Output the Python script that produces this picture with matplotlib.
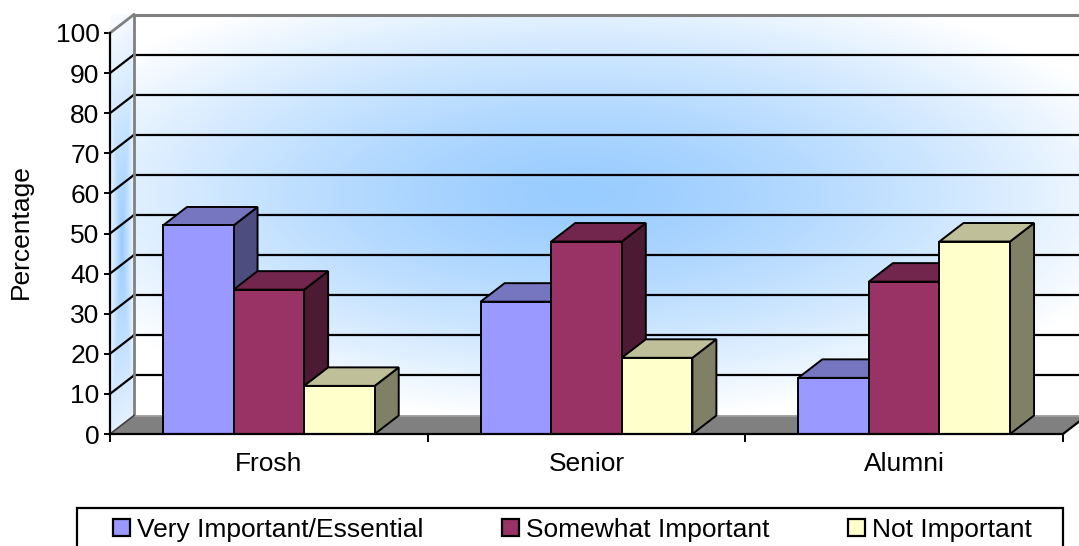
import matplotlib
matplotlib.use("Agg")
import matplotlib.pyplot as plt
import numpy as np
from matplotlib.patches import Polygon, Rectangle, Patch

# -----------------------------
# DATA
# -----------------------------
categories = ["Frosh", "Senior", "Alumni"]
series_names = ["Very Important/Essential", "Somewhat Important", "Not Important"]
very_important = [52, 33, 14]
somewhat_important = [36, 48, 38]
not_important = [12, 19, 48]
y_ticks = list(range(0, 101, 10))

front_colors = ["#9999FF", "#993366", "#FFFFCC"]
top_colors = ["#7575C0", "#73264D", "#BFBF99"]
side_colors = ["#4D4D80", "#4D1A33", "#808066"]

plt.rcParams["font.family"] = ["Liberation Sans", "DejaVu Sans"]
FS = 19

W, H = 1079, 546
fig = plt.figure(figsize=(W / 100, H / 100), dpi=100)
ax = fig.add_axes([110 / W, (H - 434) / H, 953 / W, 401 / H])

n_cat = len(categories)
# depth offset of the 3d box, in data units
DX = 24 / 317.7
DY = 18.5 / 4.01

# -----------------------------
# WALLS (gradient fill)
# -----------------------------
blue = np.array([0.60, 0.80, 1.0])
white = np.array([1.0, 1.0, 1.0])

xs = np.linspace(DX, n_cat + DX, 600)
ys = np.linspace(DY, 100 + DY, 300)
gx, gy = np.meshgrid(xs, ys)
px = 110 + gx * 317.7
py = 434 - gy * 4.01
u = (px - 580) / 580
v = (py - 195) / 225
t = np.clip(np.hypot(u, v), 0, 1) ** 1.4
t = t[..., None]
back = blue * (1 - t) + white * t
ax.imshow(back, extent=[DX, n_cat + DX, DY, 100 + DY], origin="lower",
          aspect="auto", zorder=0, clip_on=False, interpolation="bilinear")

sx = np.linspace(0, DX, 40)
sy = np.linspace(0, 100 + DY, 300)
gsx, gsy = np.meshgrid(sx, sy)
s = gsx / DX
val = gsy - DY * s
su = 2 * s - 1
sv = (val - 45) / 62
st = np.clip(np.maximum(0.8 * np.abs(su), np.abs(sv)), 0, 1)[..., None]
side_img = blue * (1 - st) + white * st
im = ax.imshow(side_img, extent=[0, DX, 0, 100 + DY], origin="lower",
               aspect="auto", zorder=0, clip_on=False, interpolation="bilinear")
side_poly = Polygon([(0, 0), (0, 100), (DX, 100 + DY), (DX, DY)],
                    closed=True, transform=ax.transData, facecolor="none",
                    edgecolor="none")
ax.add_patch(side_poly)
im.set_clip_path(side_poly)

# gridlines on back and side wall
for yv in y_ticks[1:-1]:
    ax.plot([DX, n_cat + DX], [yv + DY, yv + DY], color="black", lw=1.6,
            zorder=2, clip_on=False)
    ax.plot([0, DX], [yv, yv + DY], color="black", lw=1.6, zorder=2,
            clip_on=False)

# wall borders
ax.plot([DX, n_cat + DX], [100 + DY, 100 + DY], color="#808080", lw=2.2,
        zorder=2, clip_on=False)
ax.plot([0, DX], [100, 100 + DY], color="#808080", lw=2.0, zorder=2,
        clip_on=False)
ax.plot([DX, DX], [DY, 100 + DY], color="#808080", lw=2.0, zorder=2,
        clip_on=False)

# floor
floor = Polygon([(0, 0), (n_cat, 0), (n_cat + DX, DY), (DX, DY)], closed=True,
                facecolor="#808080", edgecolor="none", zorder=2.5,
                clip_on=False)
ax.add_patch(floor)
ax.plot([DX, n_cat + DX], [DY, DY], color="#A0A0A0", lw=1.2, zorder=2.6,
        clip_on=False)
ax.plot([0, DX], [0, DY], color="#404040", lw=1.2, zorder=2.6, clip_on=False)
ax.plot([n_cat, n_cat + DX], [0, DY], color="black", lw=1.6, zorder=2.6,
        clip_on=False)

# -----------------------------
# 3D BARS
# -----------------------------
series = [very_important, somewhat_important, not_important]
bw = 1 / (len(series) + 1.5)
gap = 0.75 * bw
z = 3
for j in range(n_cat):
    for i, vals in enumerate(series):
        h = vals[j]
        x0 = j + gap + i * bw
        x1 = x0 + bw
        side_f = Polygon([(x1, 0), (x1, h), (x1 + DX, h + DY), (x1 + DX, DY)],
                         closed=True, facecolor=side_colors[i],
                         edgecolor="black", lw=1.4, zorder=z, clip_on=False,
                         joinstyle="miter")
        top_f = Polygon([(x0, h), (x1, h), (x1 + DX, h + DY), (x0 + DX, h + DY)],
                        closed=True, facecolor=top_colors[i],
                        edgecolor="black", lw=1.4, zorder=z, clip_on=False,
                        joinstyle="miter")
        front_f = Rectangle((x0, 0), bw, h, facecolor=front_colors[i],
                            edgecolor="black", lw=1.4, zorder=z, clip_on=False,
                            joinstyle="miter")
        ax.add_patch(side_f)
        ax.add_patch(top_f)
        ax.add_patch(front_f)
        z += 0.1

# -----------------------------
# AXES
# -----------------------------
ax.set_xlim(0, n_cat)
ax.set_ylim(0, 100)
ax.patch.set_alpha(0)
for side in ["top", "right"]:
    ax.spines[side].set_visible(False)
for side in ["left", "bottom"]:
    ax.spines[side].set_linewidth(1.6)
    ax.spines[side].set_zorder(10)

ax.set_yticks(y_ticks)
ax.tick_params(axis="y", direction="out", length=4.5, width=1.4, pad=3,
               labelsize=FS)
ax.set_xticks(range(n_cat + 1))
ax.set_xticklabels([])
ax.set_xticks([j + 0.5 for j in range(n_cat)], minor=True)
ax.set_xticklabels(categories, minor=True)
ax.tick_params(axis="x", which="major", direction="out", length=5.5, width=1.4)
ax.tick_params(axis="x", which="minor", length=0, pad=13, labelsize=FS)

ax.set_ylabel("Percentage", fontsize=FS)
ax.yaxis.set_label_coords(-0.081, 0.504)

# -----------------------------
# LEGEND
# -----------------------------
handles = [Patch(facecolor=c, edgecolor="black", lw=1.6) for c in front_colors]
fig.legend(handles, series_names, loc="upper left", ncol=3, fontsize=FS,
           frameon=False, bbox_to_anchor=(113 / W, 1 - 518 / H),
           bbox_transform=fig.transFigure, borderpad=0, borderaxespad=0,
           handlelength=0.64, handleheight=0.64, handletextpad=0.27,
           columnspacing=2.97)
fig.patches.append(Rectangle((77 / W, -0.1), (1063 - 77) / W,
                             0.1 + 1 - 508 / H, transform=fig.transFigure,
                             facecolor="none", edgecolor="black", lw=1.6))

fig.savefig("out.png", dpi=100)
